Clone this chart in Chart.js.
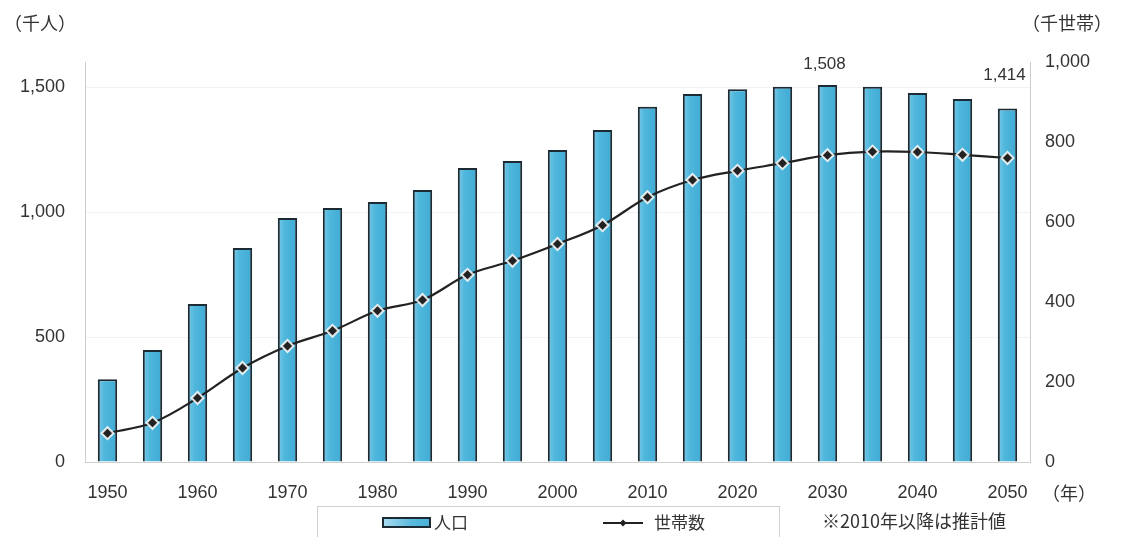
<!DOCTYPE html>
<html>
<head>
<meta charset="utf-8">
<script src="https://cdn.jsdelivr.net/npm/chart.js@4"></script>
<style>
  html, body { margin: 0; padding: 0; background: #fff; }
  #wrap { width: 1121px; height: 537px; position: relative; }
</style>
</head>
<body>
<div id="wrap"><canvas id="chart" width="1121" height="537"></canvas></div>
<script>
const years = ['1950', '1955', '1960', '1965', '1970', '1975', '1980', '1985', '1990', '1995', '2000',
  '2005', '2010', '2015', '2020', '2025', '2030', '2035', '2040', '2045', '2050'];
// 人口（千人）
const population = [331, 448, 632, 856, 976, 1016, 1040, 1088, 1176, 1204, 1248,
  1328, 1421, 1472, 1491, 1501, 1508, 1501, 1476, 1452, 1414];
// 世帯数（千世帯）
const households = [72, 98, 160, 235, 290, 328, 378, 405, 468, 503, 545,
  592, 662, 705, 728, 747, 767, 776, 775, 768, 760];
const leftTicks = [0, 500, 1000, 1500];
const labelledYears = ['2030', '2050'];

const FONT = 'Arial, "Liberation Sans", "Noto Sans CJK JP", sans-serif';
const JP_FONT = '"Noto Sans CJK JP", Arial, sans-serif';
const TEXT = '#333';
const BAR_BLUE = '#48b2d9';
const BAR_EDGE = '#1c2a33';

const fmt = (v) => String(v).replace(/\B(?=(\d{3})+(?!\d))/g, ',');

// soft highlight across each bar, lighter toward the left edge
const barFill = (c) => {
  const xs = c.chart.scales.x;
  if (!xs || c.dataIndex == null) return BAR_BLUE;
  const cx = xs.getPixelForValue(c.dataIndex);
  if (!Number.isFinite(cx)) return BAR_BLUE;
  const half = 10;
  const g = c.chart.ctx.createLinearGradient(cx - half, 0, cx + half, 0);
  g.addColorStop(0, '#7cc9e8');
  g.addColorStop(0.35, '#50b7dc');
  g.addColorStop(1, '#3faad4');
  return g;
};

const extras = {
  id: 'extras',
  afterDatasetsDraw(chart, args, opts) {
    const { ctx } = chart;
    const meta = chart.getDatasetMeta(1);
    ctx.save();
    ctx.fillStyle = TEXT;
    ctx.font = '17px ' + FONT;
    ctx.textAlign = 'center';
    ctx.textBaseline = 'bottom';
    labelledYears.forEach((y, k) => {
      const i = years.indexOf(y);
      const bar = meta.data[i];
      ctx.fillText(fmt(population[i]), bar.x - 3, bar.y - opts.gaps[k]);
    });
    ctx.restore();
  },
  afterDraw(chart) {
    const { ctx } = chart;
    ctx.save();
    ctx.fillStyle = TEXT;
    ctx.textBaseline = 'middle';
    ctx.font = '18px ' + JP_FONT;
    ctx.textAlign = 'left';
    ctx.fillText('（千人）', 4, 23);
    ctx.fillText('（千世帯）', 1022, 23);
    ctx.fillText('（年）', 1042, 493);

    // legend frame
    ctx.strokeStyle = '#cfcfcf';
    ctx.lineWidth = 1;
    ctx.strokeRect(317.5, 506.5, 462, 32);
    // bar swatch
    const g = ctx.createLinearGradient(383, 0, 430, 0);
    g.addColorStop(0, '#a9dcf0');
    g.addColorStop(0.6, '#5bbade');
    g.addColorStop(1, '#48b2d9');
    ctx.fillStyle = g;
    ctx.fillRect(383, 518, 47, 9);
    ctx.strokeStyle = BAR_EDGE;
    ctx.lineWidth = 2;
    ctx.strokeRect(383, 518, 47, 9);
    ctx.fillStyle = TEXT;
    ctx.font = '17px ' + JP_FONT;
    ctx.fillText('人口', 434, 523);
    // line swatch
    ctx.strokeStyle = '#222';
    ctx.lineWidth = 2;
    ctx.beginPath();
    ctx.moveTo(603, 523);
    ctx.lineTo(643, 523);
    ctx.stroke();
    ctx.fillStyle = '#222';
    ctx.beginPath();
    ctx.moveTo(623, 519.5);
    ctx.lineTo(626.5, 523);
    ctx.lineTo(623, 526.5);
    ctx.lineTo(619.5, 523);
    ctx.closePath();
    ctx.fill();
    ctx.fillStyle = TEXT;
    ctx.fillText('世帯数', 654, 523);
    ctx.font = '18px ' + JP_FONT;
    ctx.fillText('※2010年以降は推計値', 822, 521);
    ctx.restore();
  }
};

new Chart(document.getElementById('chart'), {
  data: {
    labels: years,
    datasets: [
      {
        type: 'line',
        label: '世帯数',
        data: households,
        yAxisID: 'y1',
        order: 1,
        borderColor: '#222',
        borderWidth: 2.2,
        tension: 0.35,
        pointStyle: 'rectRot',
        pointRadius: 6,
        pointBackgroundColor: '#222',
        pointBorderColor: 'rgba(255,255,255,0.85)',
        pointBorderWidth: 2
      },
      {
        type: 'bar',
        label: '人口',
        data: population,
        yAxisID: 'y',
        order: 2,
        backgroundColor: barFill,
        borderColor: BAR_EDGE,
        borderWidth: 2,
        barPercentage: 0.43,
        categoryPercentage: 1
      }
    ]
  },
  options: {
    responsive: false,
    animation: false,
    layout: { padding: { top: 62, left: 0, right: 0, bottom: 0 } },
    plugins: {
      legend: { display: false },
      tooltip: { enabled: false },
      extras: { gaps: [12, 25] }
    },
    scales: {
      x: {
        offset: true,
        grid: { display: false, drawTicks: false },
        border: { display: true, color: '#d0d0d0', width: 1 },
        ticks: {
          color: TEXT,
          font: { family: FONT, size: 18 },
          padding: 20,
          maxRotation: 0,
          autoSkip: false,
          callback: (v, i) => (i % 2 === 0 ? years[i] : '')
        },
        afterFit: (scale) => { scale.height = 75; }
      },
      y: {
        position: 'left',
        min: 0,
        max: 1600,
        afterBuildTicks: (axis) => { axis.ticks = leftTicks.map((v) => ({ value: v })); },
        grid: { color: 'rgba(0,0,0,0.05)', drawTicks: false },
        border: { display: true, color: '#cccccc', width: 1 },
        ticks: {
          color: TEXT,
          font: { family: FONT, size: 18 },
          padding: 20,
          callback: (v) => fmt(v)
        },
        afterFit: (scale) => { scale.width = 85; }
      },
      y1: {
        position: 'right',
        min: 0,
        max: 1000,
        grid: { display: false, drawTicks: false },
        border: { display: true, color: '#cccccc', width: 1 },
        ticks: {
          stepSize: 200,
          color: TEXT,
          font: { family: FONT, size: 18 },
          padding: 15,
          callback: (v) => fmt(v)
        },
        afterFit: (scale) => { scale.width = 91; }
      }
    }
  },
  plugins: [extras]
});
</script>
</body>
</html>
